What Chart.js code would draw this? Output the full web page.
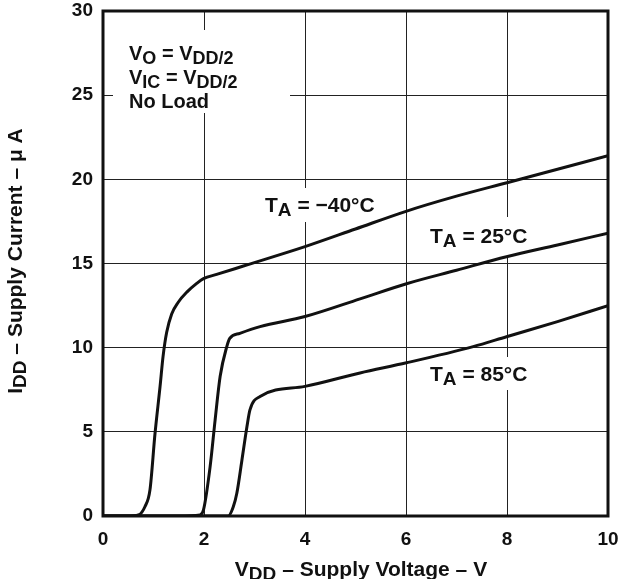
<!DOCTYPE html>
<html>
<head>
<meta charset="utf-8">
<script src="https://cdn.jsdelivr.net/npm/chart.js@4/dist/chart.umd.min.js"></script>
<style>
  html, body { margin: 0; padding: 0; background: #fff; }
  canvas { display: block; }
</style>
</head>
<body>
<canvas id="myChart" width="619" height="579"></canvas>
<script>
// supply voltage (V) / supply current (uA)
let vddM40 = [0, 0.5, 0.70, 0.83, 0.93, 1.03, 1.13, 1.19, 1.26, 1.36, 1.49, 1.66, 1.85, 1.99, 2.25, 2.78, 4, 5, 6, 7, 8, 9, 10];
let iddM40 = [0, 0, 0.06, 0.55, 1.55, 4.9, 7.7, 9.5, 10.9, 12.0, 12.7, 13.3, 13.8, 14.1, 14.35, 14.85, 16.0, 17.05, 18.1, 19.0, 19.8, 20.6, 21.4];

let vdd25 = [0, 1.5, 1.92, 1.99, 2.12, 2.22, 2.32, 2.45, 2.51, 2.71, 3.11, 4, 5.09, 6.01, 7, 7.99, 9, 10];
let idd25 = [0, 0, 0.06, 0.36, 2.9, 5.7, 8.3, 10.05, 10.55, 10.85, 11.25, 11.85, 12.9, 13.8, 14.6, 15.4, 16.1, 16.8];

let vdd85 = [0, 2, 2.48, 2.58, 2.65, 2.75, 2.85, 2.91, 3.11, 4, 5.09, 6.01, 7.33, 7.99, 9, 10];
let idd85 = [0, 0, 0, 0.55, 1.35, 3.3, 5.3, 6.3, 7.1, 7.7, 8.5, 9.1, 10.06, 10.65, 11.55, 12.5];

let xTicks = [0, 2, 4, 6, 8, 10];
let yTicks = [0, 5, 10, 15, 20, 25, 30];

function pts(xs, ys) {
    return xs.map((x, i) => ({ x: x, y: ys[i] }));
}

const FONT = '"Liberation Sans", Arial, sans-serif';

// text with subscripts: parts = [[text, isSub], ...]
function drawRich(c, parts, x, y, size, align) {
    let big = 'bold ' + size + 'px ' + FONT;
    let small = 'bold ' + (size - 2) + 'px ' + FONT;
    let w = 0;
    parts.forEach(p => {
        c.font = p[1] ? small : big;
        w += c.measureText(p[0]).width;
    });
    let cx = align === 'center' ? x - w / 2 : x;
    c.textAlign = 'left';
    c.textBaseline = 'alphabetic';
    parts.forEach(p => {
        c.font = p[1] ? small : big;
        c.fillText(p[0], cx, p[1] ? y + 4 : y);
        cx += c.measureText(p[0]).width;
    });
}

const labelBoxes = [
    [113, 30, 177, 83],
    [255, 188, 135, 34],
    [420, 217, 125, 38],
    [420, 357, 125, 33]
];

const decor = {
    id: 'decor',
    beforeDatasetsDraw(chart) {
        let c = chart.ctx;
        c.save();
        c.fillStyle = '#fff';
        labelBoxes.forEach(b => c.fillRect(b[0], b[1], b[2], b[3]));
        c.restore();
    },
    afterDatasetsDraw(chart) {
        let c = chart.ctx;
        let a = chart.chartArea;
        c.save();
        c.strokeStyle = '#111';
        c.lineWidth = 3;
        c.strokeRect(a.left, a.top, a.right - a.left, a.bottom - a.top);

        c.fillStyle = '#111';
        drawRich(c, [['V', 0], ['O', 1], [' = V', 0], ['DD/2', 1]], 129, 60, 20);
        drawRich(c, [['V', 0], ['IC', 1], [' = V', 0], ['DD/2', 1]], 129, 84, 20);
        drawRich(c, [['No Load', 0]], 129, 108, 20);

        drawRich(c, [['T', 0], ['A', 1], [' = \u221240\u00B0C', 0]], 265, 212, 21);
        drawRich(c, [['T', 0], ['A', 1], [' = 25\u00B0C', 0]], 430, 243, 21);
        drawRich(c, [['T', 0], ['A', 1], [' = 85\u00B0C', 0]], 430, 381, 21);

        // axis titles
        drawRich(c, [['V', 0], ['DD', 1], [' \u2013 Supply Voltage \u2013 V', 0]], 361, 576, 21, 'center');
        c.translate(22, 261);
        c.rotate(-Math.PI / 2);
        drawRich(c, [['I', 0], ['DD', 1], [' \u2013 Supply Current \u2013 \u03BC A', 0]], 0, 0, 21, 'center');
        c.restore();
    }
};

let ctx = document.getElementById('myChart');
let lineStyle = {
    showLine: true,
    borderColor: '#111',
    borderWidth: 3,
    pointRadius: 0,
    cubicInterpolationMode: 'monotone',
    fill: false
};

let myChart = new Chart(ctx, {
    type: 'scatter',
    data: {
        datasets: [
            Object.assign({ label: 'TA = -40C', data: pts(vddM40, iddM40) }, lineStyle),
            Object.assign({ label: 'TA = 25C', data: pts(vdd25, idd25) }, lineStyle),
            Object.assign({ label: 'TA = 85C', data: pts(vdd85, idd85) }, lineStyle)
        ]
    },
    options: {
        responsive: false,
        animation: false,
        layout: { padding: 0 },
        plugins: {
            legend: { display: false },
            tooltip: { enabled: false }
        },
        scales: {
            x: {
                type: 'linear',
                min: 0,
                max: 10,
                afterBuildTicks: s => { s.ticks = xTicks.map(v => ({ value: v })); },
                afterFit: s => { s.height = 63; s.paddingRight = 11; s.paddingLeft = 0; },
                ticks: { color: '#111', padding: 12, font: { family: FONT, size: 19, weight: 'bold' } },
                grid: { color: '#222', lineWidth: 1, drawTicks: false },
                border: { display: false }
            },
            y: {
                type: 'linear',
                min: 0,
                max: 30,
                afterBuildTicks: s => { s.ticks = yTicks.map(v => ({ value: v })); },
                afterFit: s => { s.width = 103; s.paddingTop = 11; s.paddingBottom = 0; },
                ticks: { color: '#111', padding: 10, font: { family: FONT, size: 19, weight: 'bold' } },
                grid: { color: '#222', lineWidth: 1, drawTicks: false },
                border: { display: false }
            }
        }
    },
    plugins: [decor]
});
</script>
</body>
</html>
